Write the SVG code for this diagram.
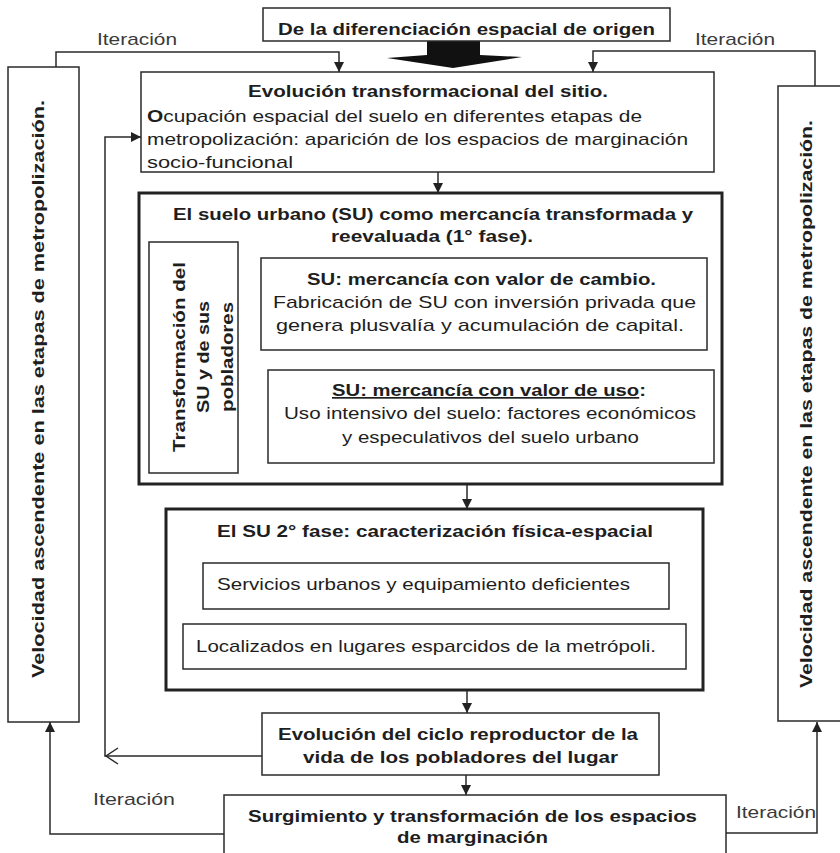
<svg xmlns="http://www.w3.org/2000/svg" width="840" height="853" viewBox="0 0 840 853">
<style>
.bx{fill:#fff;stroke:#2a2a2a;stroke-width:1.5}
.bt{fill:#fff;stroke:#222;stroke-width:3}
.t{font-family:"Liberation Sans",Arial,sans-serif;font-size:17px;fill:#1e1e1e}
.b{font-weight:bold}
.it{font-family:"Liberation Sans",Arial,sans-serif;font-size:17px;fill:#3a3a3a}
.ln{fill:none;stroke:#2a2a2a;stroke-width:1.5}
</style>
<defs>
<marker id="ah" viewBox="0 0 10 10" refX="10" refY="5" markerWidth="10" markerHeight="10" markerUnits="userSpaceOnUse" orient="auto">
<path d="M0,0 L10,5 L0,10 z" fill="#222"/>
</marker>
</defs>
<rect width="840" height="853" fill="#fff"/>

<g id="connectors">
<polyline class="ln" points="56,67 56,52 339,52 339,72" marker-end="url(#ah)"/>
<polyline class="ln" points="815,86 815,51 593,51 593,72" marker-end="url(#ah)"/>
<line class="ln" x1="438" y1="172" x2="438" y2="193" marker-end="url(#ah)"/>
<line class="ln" x1="261" y1="307" x2="239" y2="307" marker-end="url(#ah)"/>
<line class="ln" x1="268" y1="437" x2="239" y2="437" marker-end="url(#ah)"/>
<line class="ln" x1="492" y1="350" x2="492" y2="370" marker-end="url(#ah)"/>
<line class="ln" x1="467" y1="485" x2="467" y2="509" marker-end="url(#ah)"/>
<line class="ln" x1="467" y1="690" x2="467" y2="713" marker-end="url(#ah)"/>
<line class="ln" x1="466" y1="775" x2="466" y2="795" marker-end="url(#ah)"/>
<polyline class="ln" points="262,756 105,756 105,137 141,137" marker-end="url(#ah)"/>
<polyline class="ln" points="118,748 106,756 118,764"/>
<polyline class="ln" points="224,834 50,834 50,722" marker-end="url(#ah)"/>
<polyline class="ln" points="726,833 817,833 817,722" marker-end="url(#ah)"/>
<polygon points="427,41 480,41 480,55 522,57 453,68 387,58 427,55" fill="#111"/>
<text class="it" x="97" y="45" textLength="80" lengthAdjust="spacingAndGlyphs">Iteración</text>
<text class="it" x="695" y="45" textLength="80" lengthAdjust="spacingAndGlyphs">Iteración</text>
<text class="it" x="93" y="805" textLength="82" lengthAdjust="spacingAndGlyphs">Iteración</text>
<text class="it" x="736" y="818" textLength="80" lengthAdjust="spacingAndGlyphs">Iteración</text>
</g>

<g id="origen">
<rect class="bx" x="263" y="8" width="407" height="33"/>
<text class="t b" x="278" y="35" textLength="377" lengthAdjust="spacingAndGlyphs">De la diferenciación espacial de origen</text>
</g>

<g id="velocidad-izq">
<rect class="bx" x="8" y="67" width="71" height="655"/>
<text class="t b" transform="translate(44,389) rotate(-90)" x="-289" y="0" font-size="19" textLength="578" lengthAdjust="spacingAndGlyphs">Velocidad ascendente en las etapas de metropolización.</text>
</g>

<g id="velocidad-der">
<rect class="bx" x="778" y="86" width="70" height="635"/>
<text class="t b" transform="translate(812,404) rotate(-90)" x="-284" y="0" font-size="19" textLength="568" lengthAdjust="spacingAndGlyphs">Velocidad ascendente en las etapas de metropolización.</text>
</g>

<g id="evolucion-sitio">
<rect class="bx" x="141" y="72" width="573" height="100"/>
<text class="t b" x="248" y="97" textLength="360" lengthAdjust="spacingAndGlyphs">Evolución transformacional del sitio.</text>
<text class="t" x="147" y="122" textLength="495" lengthAdjust="spacingAndGlyphs"><tspan class="b">O</tspan>cupación espacial del suelo en diferentes etapas de</text>
<text class="t" x="147" y="145" textLength="541" lengthAdjust="spacingAndGlyphs">metropolización: aparición de los espacios  de marginación</text>
<text class="t" x="147" y="168" textLength="146" lengthAdjust="spacingAndGlyphs">socio-funcional</text>
</g>

<g id="suelo-urbano">
<rect class="bt" x="139" y="193" width="583" height="291"/>
<text class="t b" x="173" y="220" textLength="520" lengthAdjust="spacingAndGlyphs">El suelo urbano (SU) como mercancía transformada y</text>
<text class="t b" x="331" y="242" textLength="202" lengthAdjust="spacingAndGlyphs">reevaluada (1° fase).</text>
</g>

<g id="transformacion">
<rect class="bx" x="149" y="242" width="89" height="231"/>
<g transform="translate(0,357) rotate(-90)">
<text class="t b" x="-95" y="185" font-size="19" textLength="190" lengthAdjust="spacingAndGlyphs">Transformación del</text>
<text class="t b" x="-56" y="209" font-size="19" textLength="112" lengthAdjust="spacingAndGlyphs">SU y de sus</text>
<text class="t b" x="-55" y="233" font-size="19" textLength="110" lengthAdjust="spacingAndGlyphs">pobladores</text>
</g>
</g>

<g id="valor-cambio">
<rect class="bx" x="261" y="258" width="446" height="92"/>
<text class="t b" x="307" y="285" textLength="349" lengthAdjust="spacingAndGlyphs">SU: mercancía con valor de cambio.</text>
<text class="t" x="273" y="308" textLength="423" lengthAdjust="spacingAndGlyphs">Fabricación de SU con inversión privada que</text>
<text class="t" x="276" y="331" textLength="408" lengthAdjust="spacingAndGlyphs">genera plusvalía y acumulación de capital.</text>
</g>

<g id="valor-uso">
<rect class="bx" x="268" y="370" width="446" height="93"/>
<text class="t b" x="332" y="396" textLength="314" lengthAdjust="spacingAndGlyphs"><tspan text-decoration="underline">SU: mercancía con valor de uso</tspan>:</text>
<text class="t" x="284" y="419" textLength="412" lengthAdjust="spacingAndGlyphs">Uso intensivo del suelo: factores económicos</text>
<text class="t" x="342" y="443" textLength="297" lengthAdjust="spacingAndGlyphs">y especulativos del suelo urbano</text>
</g>

<g id="segunda-fase">
<rect class="bt" x="166" y="509" width="537" height="181"/>
<text class="t b" x="217" y="537" textLength="436" lengthAdjust="spacingAndGlyphs">El SU 2° fase: caracterización física-espacial</text>
</g>

<g id="servicios">
<rect class="bx" x="203" y="563" width="466" height="46"/>
<text class="t" x="217" y="590" textLength="413" lengthAdjust="spacingAndGlyphs">Servicios urbanos y equipamiento deficientes</text>
</g>

<g id="localizados">
<rect class="bx" x="183" y="624" width="503" height="45"/>
<text class="t" x="196" y="652" textLength="460" lengthAdjust="spacingAndGlyphs">Localizados en lugares esparcidos de la metrópoli.</text>
</g>

<g id="ciclo-reproductor">
<rect class="bx" x="262" y="713" width="397" height="62"/>
<text class="t b" x="278" y="740" textLength="360" lengthAdjust="spacingAndGlyphs">Evolución del ciclo reproductor de la</text>
<text class="t b" x="303" y="763" textLength="315" lengthAdjust="spacingAndGlyphs">vida de los pobladores del lugar</text>
</g>

<g id="surgimiento">
<rect class="bx" x="224" y="795" width="502" height="70"/>
<text class="t b" x="248" y="822" textLength="449" lengthAdjust="spacingAndGlyphs">Surgimiento y transformación de los espacios</text>
<text class="t b" x="397" y="843" textLength="151" lengthAdjust="spacingAndGlyphs">de marginación</text>
</g>
</svg>
